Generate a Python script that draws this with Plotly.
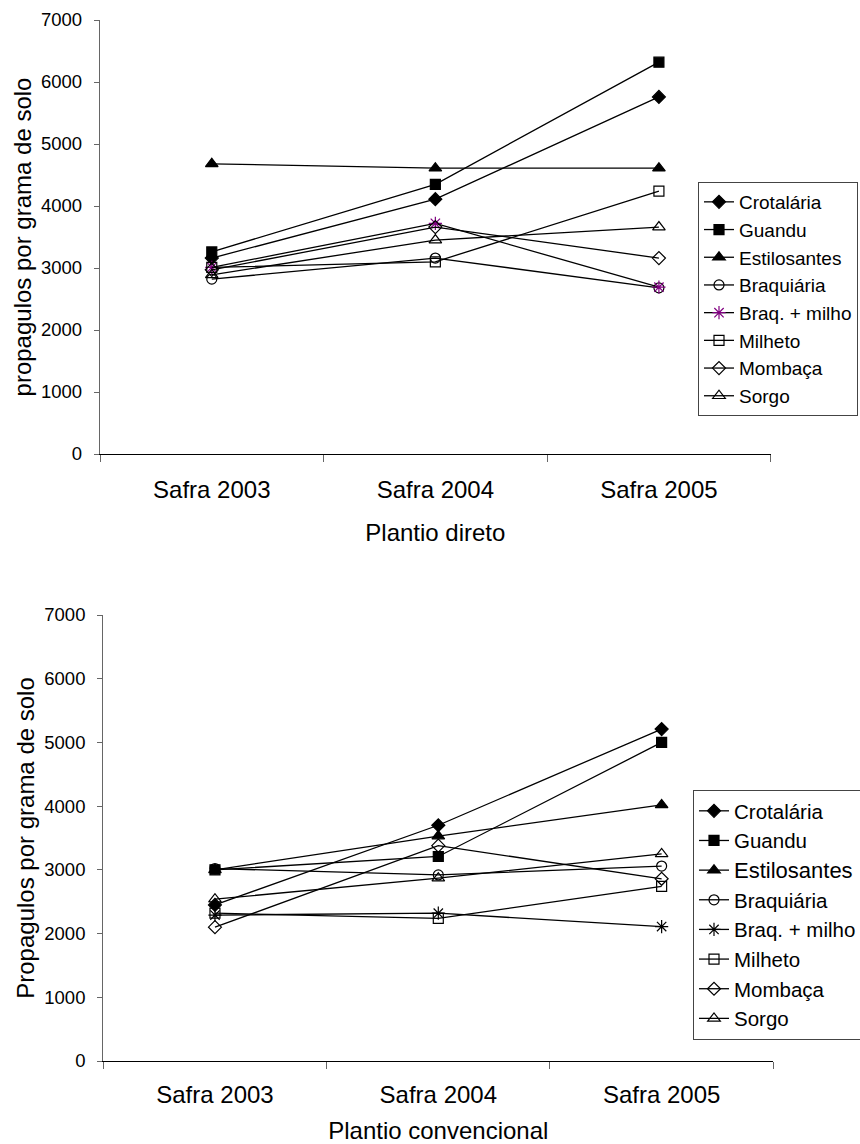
import plotly.graph_objects as go

categories = ["Safra 2003", "Safra 2004", "Safra 2005"]
series_names = ["Crotalária", "Guandu", "Estilosantes", "Braquiária",
                "Braq. + milho", "Milheto", "Mombaça", "Sorgo"]

# Plantio direto (top)
pd_crotalaria = [3160, 4110, 5760]
pd_guandu = [3260, 4350, 6320]
pd_estilosantes = [4680, 4610, 4610]
pd_braquiaria = [2820, 3160, 2680]
pd_braq_milho = [3010, 3720, 2690]
pd_milheto = [3010, 3100, 4240]
pd_mombaca = [2970, 3660, 3160]
pd_sorgo = [2890, 3450, 3660]

# Plantio convencional (bottom)
pc_crotalaria = [2450, 3700, 5210]
pc_guandu = [3000, 3210, 5000]
pc_estilosantes = [3000, 3530, 4020]
pc_braquiaria = [3020, 2920, 3060]
pc_braq_milho = [2290, 2320, 2110]
pc_milheto = [2320, 2240, 2740]
pc_mombaca = [2100, 3380, 2860]
pc_sorgo = [2540, 2870, 3250]

y_ticks = [0, 1000, 2000, 3000, 4000, 5000, 6000, 7000]

FONT = "Liberation Sans, Arial, sans-serif"

symbols = ["diamond", "square", "triangle-up", "circle-open",
           "asterisk", "square-open", "diamond-open", "triangle-up-open"]
sizes = [10, 10, 11, 10, 11, 10, 10, 11]

top_data = [pd_crotalaria, pd_guandu, pd_estilosantes, pd_braquiaria,
            pd_braq_milho, pd_milheto, pd_mombaca, pd_sorgo]
bot_data = [pc_crotalaria, pc_guandu, pc_estilosantes, pc_braquiaria,
            pc_braq_milho, pc_milheto, pc_mombaca, pc_sorgo]

fig = go.Figure()

for i, name in enumerate(series_names):
    mcol = "#800080" if name == "Braq. + milho" else "black"
    fig.add_trace(go.Scatter(
        x=categories, y=top_data[i], name=name, mode="lines+markers",
        xaxis="x", yaxis="y", legend="legend",
        line=dict(color="black", width=1.3),
        marker=dict(symbol=symbols[i], size=sizes[i], color=mcol,
                    line=dict(color=mcol, width=1.2)),
    ))

for i, name in enumerate(series_names):
    label = name
    if name == "Estilosantes":
        label = '<span style="font-size:22px">Estilosantes</span>'
    fig.add_trace(go.Scatter(
        x=categories, y=bot_data[i], name=label, mode="lines+markers",
        xaxis="x2", yaxis="y2", legend="legend2",
        line=dict(color="black", width=1.3),
        marker=dict(symbol=symbols[i], size=sizes[i], color="black",
                    line=dict(color="black", width=1.2)),
    ))

W, H = 860, 1144

def xaxis_cfg(x0, x1, anchor, title, lab_standoff, title_standoff):
    return dict(
        domain=[x0 / W, x1 / W], anchor=anchor, type="category",
        categoryorder="array", categoryarray=categories,
        range=[-0.5, 2.5], tickson="boundaries", automargin=False,
        ticks="outside", ticklen=7, tickcolor="#666", tickwidth=1,
        showline=True, linecolor="black", linewidth=1.3,
        showgrid=False, zeroline=False,
        tickfont=dict(size=24, family=FONT, color="black"),
        ticklabelstandoff=lab_standoff,
        title=dict(text=title, font=dict(size=24, family=FONT, color="black"),
                   standoff=title_standoff),
    )

def yaxis_cfg(y0px, y1px, anchor, title):
    return dict(
        domain=[(H - y0px) / H, (H - y1px) / H], anchor=anchor,
        range=[0, 7000], tickvals=y_ticks, ticktext=[str(v) for v in y_ticks],
        automargin=False,
        ticks="outside", ticklen=5, tickcolor="#666", tickwidth=1,
        showline=True, linecolor="#666", linewidth=1.3,
        showgrid=False, zeroline=False,
        tickfont=dict(size=18.5, family=FONT, color="black"),
        ticklabelstandoff=8,
        title=dict(text=title, font=dict(size=24, family=FONT, color="black"),
                   standoff=2),
    )

legend_common = dict(
    bgcolor="white", bordercolor="#444", borderwidth=1,
    xanchor="left", yanchor="top", itemwidth=30, tracegroupgap=0,
)

fig.update_layout(
    width=W, height=H,
    margin=dict(l=0, r=0, t=0, b=0, autoexpand=False),
    paper_bgcolor="white", plot_bgcolor="white",
    font=dict(family=FONT, color="black"),
    xaxis=xaxis_cfg(100, 770.7, "y", "Plantio direto", 14, 22),
    yaxis=yaxis_cfg(454, 20, "x", "propagulos por grama de solo"),
    xaxis2=xaxis_cfg(103.3, 773.3, "y2", "Plantio convencional", 12, 16),
    yaxis2=yaxis_cfg(1061, 615, "x2", "Propagulos por grama de solo"),
    legend=dict(x=698 / W, y=(H - 182) / H,
                font=dict(size=19, family=FONT, color="black"), **legend_common),
    legend2=dict(x=693 / W, y=(H - 790) / H,
                 font=dict(size=20.5, family=FONT, color="black"), **legend_common),
    showlegend=True,
)

fig.write_html("out.html", config={"displayModeBar": False},
               post_script="document.body.style.margin='0';document.body.style.overflow='hidden';")
